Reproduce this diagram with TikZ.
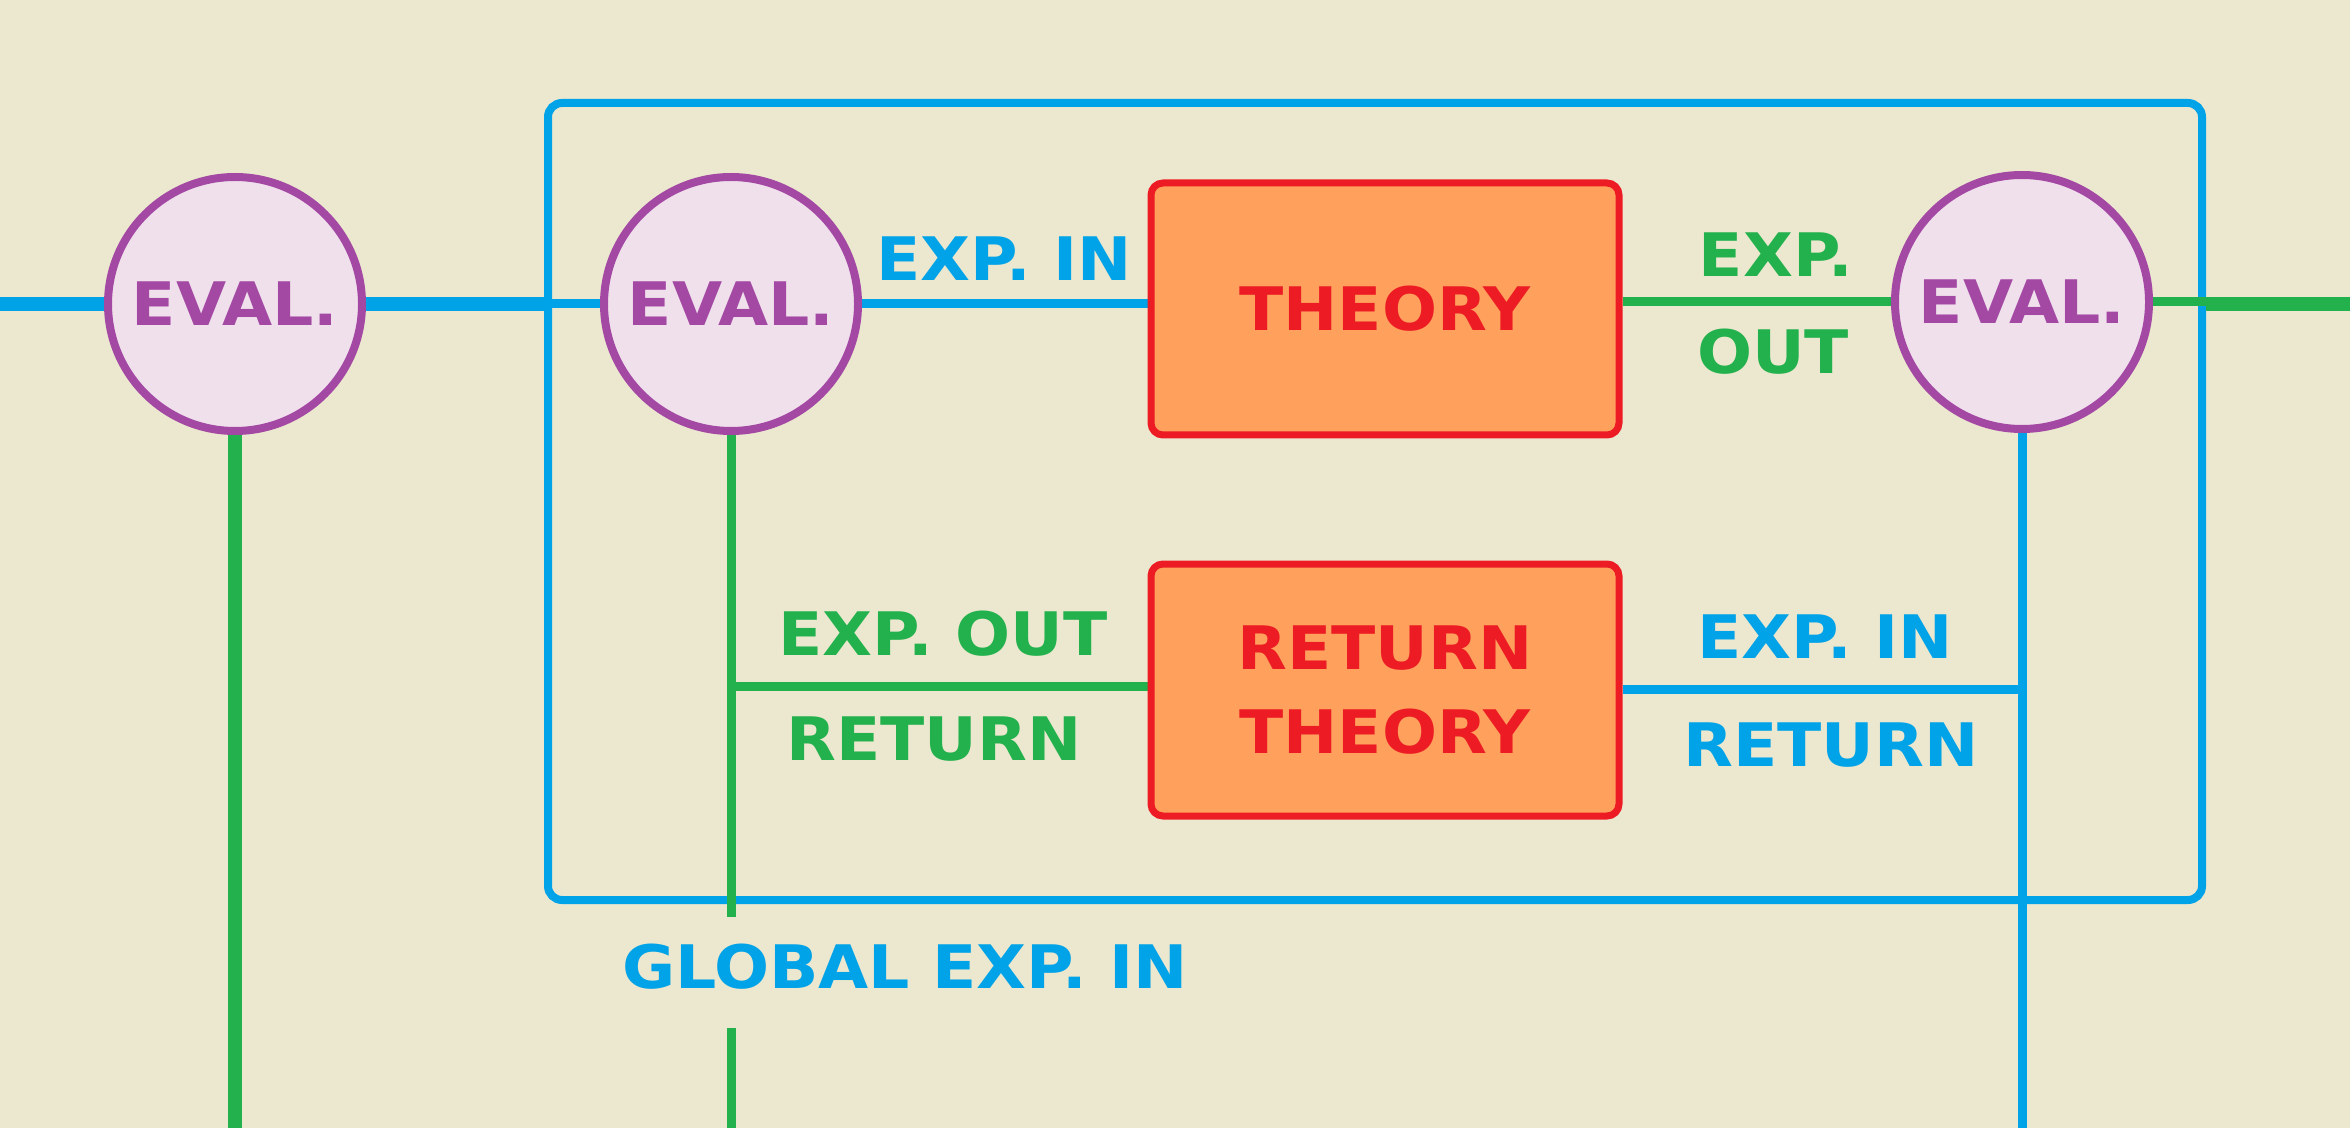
\documentclass[tikz,border=0pt]{standalone}
\usepackage{fontspec}
\setmainfont{DejaVu Sans}[FakeStretch=1.08]
\definecolor{bgc}{RGB}{236,232,207}
\definecolor{cblue}{RGB}{0,162,232}
\definecolor{cgreen}{RGB}{34,177,76}
\definecolor{cpurple}{RGB}{163,73,164}
\definecolor{cpink}{RGB}{240,224,236}
\definecolor{cred}{RGB}{237,28,36}
\definecolor{corange}{RGB}{255,160,92}
\pgfdeclarelayer{back}
\pgfsetlayers{back,main}
\begin{document}
\begin{tikzpicture}[x=0.5pt,y=-0.5pt,
  lbl/.style={font=\fontsize{30}{42}\selectfont\bfseries, inner sep=0pt, align=center},
  evalnode/.style={lbl, circle, draw=cpurple, fill=cpink, line width=4pt, minimum size=127pt, text=cpurple},
  theorybox/.style={lbl, rectangle, rounded corners=6pt, draw=cred, fill=corange, line width=3.5pt, minimum width=234pt, minimum height=126pt, text=cred},
  grpbox/.style={rectangle, rounded corners=7pt, draw=cblue, line width=4pt, minimum width=827pt, minimum height=398.5pt, inner sep=0pt},
  bluelbl/.style={lbl, text=cblue},
  greenlbl/.style={lbl, text=cgreen},
  thickblue/.style={draw=cblue, line width=7pt},
  thinblue/.style={draw=cblue, line width=4.5pt},
  thickgreen/.style={draw=cgreen, line width=7pt},
  thingreen/.style={draw=cgreen, line width=4.5pt}
]
\useasboundingbox (0,0) rectangle (2350,1128);
% nodes
\node[evalnode] (c1) at (235,304) {EVAL.};
\node[evalnode] (c2) at (731,304) {EVAL.};
\node[evalnode] (c3) at (2022,302) {EVAL.};
\node[theorybox] (th) at (1385,309) {THEORY};
\node[theorybox] (rt) at (1385,690) {RETURN\\THEORY};
% labels
\node[bluelbl] (l1) at (1004,259) {EXP. IN};
\node[greenlbl] (l2) at (1776,255) {EXP.};
\node[greenlbl] (l3) at (1773,352) {OUT};
\node[greenlbl] (l4) at (943,634) {EXP. OUT};
\node[greenlbl] (l5) at (934,739) {RETURN};
\node[bluelbl] (l6) at (1825,637) {EXP. IN};
\node[bluelbl] (l7) at (1831,745) {RETURN};
\node[bluelbl] (l8) at (905,967) {GLOBAL EXP. IN};
% coordinates
\coordinate (Lin) at (0,304);
\coordinate (Rout) at (2350,304);
\coordinate (B1) at (235,1128);
\coordinate (B3) at (2022,1128);
\coordinate (G1) at (731,917);
\coordinate (G2) at (731,1028);
\coordinate (G3) at (731,1128);
\coordinate (J1) at (731,686);
\coordinate (J2) at (2022,689);
\begin{pgfonlayer}{back}
\fill[bgc] (0,0) rectangle (2350,1128);
\node[grpbox] (grp) at (1375,501.5) {};
\draw[thickblue] (Lin) -- (c1);
\draw[thickblue] (c1) -- (grp.west |- c1);
\draw[thinblue] (grp.west |- c1) -- (c2);
\draw[thinblue] (c2) -- (c2 -| th.west);
\draw[thingreen] (th.east |- c3) -- (c3);
\draw[thingreen] (c3) -- (grp.east |- c3);
\draw[thickgreen] (grp.east |- Rout) -- (Rout);
\draw[thickgreen] (c1) -- (B1);
\draw[thinblue] (c3) -- (B3);
\draw[thingreen] (c2) -- (G1);
\draw[thingreen] (G2) -- (G3);
\draw[thingreen] (J1) -- (J1 -| rt.west);
\draw[thinblue] (rt.east |- J2) -- (J2);
\end{pgfonlayer}
\end{tikzpicture}
\end{document}
